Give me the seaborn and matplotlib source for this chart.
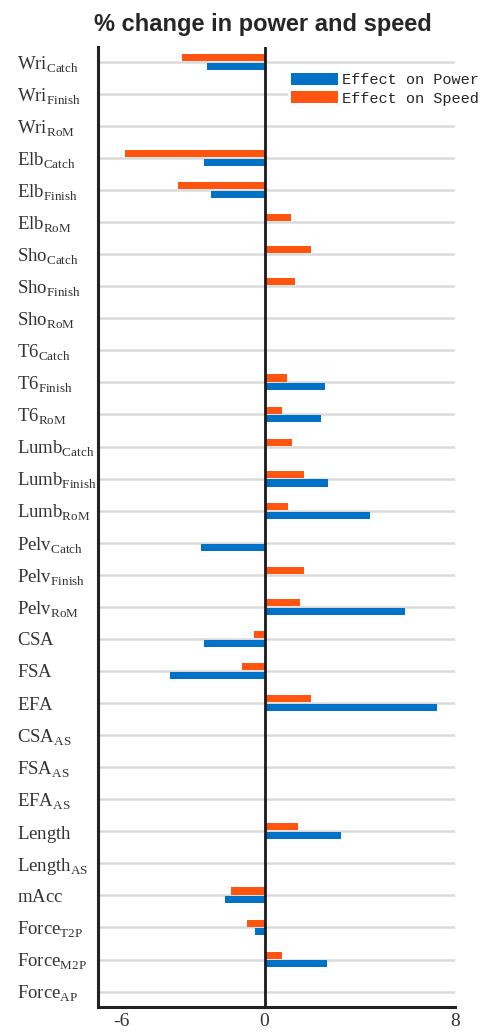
import numpy as np
import pandas as pd
import matplotlib
matplotlib.use('Agg')
import matplotlib.pyplot as plt
import seaborn as sns

# --- data (NaN = no bar) ---
bases = ['Wri', 'Wri', 'Wri', 'Elb', 'Elb', 'Elb', 'Sho', 'Sho', 'Sho',
         'T6', 'T6', 'T6', 'Lumb', 'Lumb', 'Lumb', 'Pelv', 'Pelv', 'Pelv',
         'CSA', 'FSA', 'EFA', 'CSA', 'FSA', 'EFA', 'Length', 'Length',
         'mAcc', 'Force', 'Force', 'Force']
subs = ['Catch', 'Finish', 'RoM', 'Catch', 'Finish', 'RoM', 'Catch', 'Finish', 'RoM',
        'Catch', 'Finish', 'RoM', 'Catch', 'Finish', 'RoM', 'Catch', 'Finish', 'RoM',
        '', '', '', 'AS', 'AS', 'AS', '', 'AS',
        '', 'T2P', 'M2P', 'AP']
power = [-2.40, np.nan, np.nan, -2.55, -2.25, np.nan, np.nan, np.nan, np.nan,
         np.nan, 2.54, 2.36, np.nan, 2.67, 4.41, -2.67, np.nan, 5.91,
         -2.55, -3.97, 7.23, np.nan, np.nan, np.nan, 3.20, np.nan,
         -1.67, -0.42, 2.64, np.nan]
speed = [-3.48, np.nan, np.nan, -5.85, -3.62, 1.09, 1.96, 1.26, np.nan,
         np.nan, 0.95, 0.74, 1.16, 1.67, 0.97, np.nan, 1.64, 1.49,
         -0.44, -0.95, 1.94, np.nan, np.nan, np.nan, 1.42, np.nan,
         -1.42, -0.73, 0.74, np.nan]
xtick_values = [-6, 0, 8]

labels = []
for b, s in zip(bases, subs):
    if s:
        labels.append(r'$\mathrm{%s}_{\mathrm{%s}}$' % (b, s))
    else:
        labels.append(r'$\mathrm{%s}$' % b)
n = len(labels)

df = pd.DataFrame({
    'label': labels * 2,
    'effect': ['Effect on Power'] * n + ['Effect on Speed'] * n,
    'value': power + speed,
})
df['value'] = df['value'].fillna(0)

sns.set_style('white')
plt.rcParams['mathtext.fontset'] = 'custom'
plt.rcParams['mathtext.rm'] = 'Liberation Serif'
plt.rcParams['font.family'] = ['Liberation Serif', 'DejaVu Sans']

fig = plt.figure(figsize=(4.86, 10.32), dpi=100)
ax = fig.add_axes([98 / 486, 25 / 1032, (455 - 98) / 486, (1007 - 47) / 1032])

sns.barplot(data=df, y='label', x='value', hue='effect', orient='h',
            order=labels, hue_order=['Effect on Speed', 'Effect on Power'],
            palette={'Effect on Power': '#0072C6', 'Effect on Speed': '#FF5510'},
            saturation=1, width=0.55, gap=0.2, linewidth=0, errorbar=None, ax=ax)

ax.set_xlim(-7, 8)
ax.set_ylim(n - 1 + 0.48, -0.46)
ax.set_xlabel('')
ax.set_ylabel('')

ax.set_xticks(range(-7, 9))
ax.set_xticklabels([str(v) if v in xtick_values else '' for v in range(-7, 9)],
                   fontsize=14)
ax.set_yticks(range(n))
ax.set_yticklabels(labels, fontsize=13.5, ha='left')
ax.tick_params(axis='x', direction='in', length=11, width=2, pad=4, colors='#222222')
ax.tick_params(axis='y', direction='in', length=11, width=2, pad=58, colors='#222222')
for t in ax.get_xticklabels() + ax.get_yticklabels():
    t.set_color('#333333')

ax.grid(axis='y', color='#dadada', lw=1.8)
ax.grid(axis='x', visible=False)
ax.set_axisbelow(True)
ax.axvline(0, color='#1a1a1a', lw=2, zorder=4)

for side in ['top', 'right']:
    ax.spines[side].set_visible(False)
for side in ['left', 'bottom']:
    ax.spines[side].set_linewidth(2.2)
    ax.spines[side].set_color('#222222')

handles, leg_labels = ax.get_legend_handles_labels()
ax.legend(handles[::-1], leg_labels[::-1], loc='upper left',
          bbox_to_anchor=(288 / 486, 1 - 70 / 1032), bbox_transform=fig.transFigure,
          frameon=True, facecolor='white', edgecolor='none', framealpha=1,
          borderaxespad=0, borderpad=0.2, handlelength=3.1, handleheight=0.85,
          handletextpad=0.25, labelspacing=0.25,
          prop={'family': 'Liberation Mono', 'size': 11})

fig.text(263 / 486, 1 - 24 / 1032, '% change in power and speed', ha='center',
         va='center', fontsize=17, fontweight='bold', family='Liberation Sans')

fig.savefig('out.png', dpi=100)
